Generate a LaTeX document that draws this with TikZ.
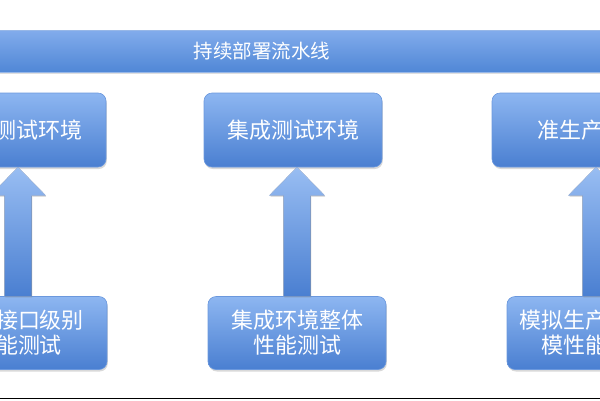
\documentclass[tikz,border=0pt]{standalone}
\usepackage{fontspec}
\setmainfont{Noto Sans CJK SC}
\usetikzlibrary{calc,shadows}

\definecolor{boxtop}{HTML}{8DB6F1}
\definecolor{boxbot}{HTML}{4A7FD1}
\definecolor{boxedge}{HTML}{6B98DD}
\definecolor{bartop}{HTML}{82ACEC}
\definecolor{barbot}{HTML}{5087D6}

\tikzset{
  envbox/.style={rounded corners=8pt, draw=boxedge, line width=0.6pt,
    top color=boxtop, bottom color=boxbot, text=white, align=center,
    minimum width=178pt, inner sep=0pt,
    font=\fontsize{22}{25}\selectfont,
    drop shadow={opacity=0.3, shadow xshift=0.8pt, shadow yshift=-2pt}},
  testbox/.style={envbox, minimum height=73pt},
  stagebox/.style={envbox, minimum height=74pt},
  pipebar/.style={draw=boxedge!70, line width=0.6pt, top color=bartop, bottom color=barbot,
    text=white, minimum width=760pt, minimum height=42pt, inner sep=0pt,
    font=\fontsize{19.5}{22}\selectfont,
    drop shadow={opacity=0.25, shadow xshift=0pt, shadow yshift=-2pt}},
  uparrow/.style={top color=boxtop!90!white, bottom color=boxbot, draw=boxedge!60, line width=0.4pt,
    drop shadow={opacity=0.25, shadow xshift=0.8pt, shadow yshift=-1.5pt}}
}

\begin{document}
\begin{tikzpicture}[x=1pt,y=-1pt]
  \useasboundingbox (0,0) rectangle (600,400);
  \clip (0,0) rectangle (600,400);

  % pipeline bar
  \node[pipebar] (pipe) at (262,51) {持续部署流水线};

  % environments
  \node[stagebox] (t1) at (17,130) {\phantom{测试}测试环境};
  \node[stagebox] (t2) at (293,130) {集成测试环境};
  \node[stagebox] (t3) at (581,130) {准生产\phantom{环}};

  % tests
  \node[testbox] (b1) at (18,333) {\phantom{测试}接口级别\\\phantom{测}能测试};
  \node[testbox] (b2) at (297,333) {集成环境整体\\性能测试};
  \node[testbox] (b3) at (596,333) {模拟生产\phantom{环境规}\\模性能\phantom{测试}};

  % arrows
  \foreach \i in {1,2,3}{
    \filldraw[uparrow] ($(b\i.north)+(-13.5,0)$) -- ($(b\i.north |- t\i.south)+(-13.5,28)$)
      -- ($(b\i.north |- t\i.south)+(-27.5,28)$) -- (b\i.north |- t\i.south)
      -- ($(b\i.north |- t\i.south)+(27.5,28)$) -- ($(b\i.north |- t\i.south)+(13.5,28)$)
      -- ($(b\i.north)+(13.5,0)$) -- cycle;
  }

  \draw[line width=1pt] (0,398) -- (600,398);
\end{tikzpicture}
\end{document}
